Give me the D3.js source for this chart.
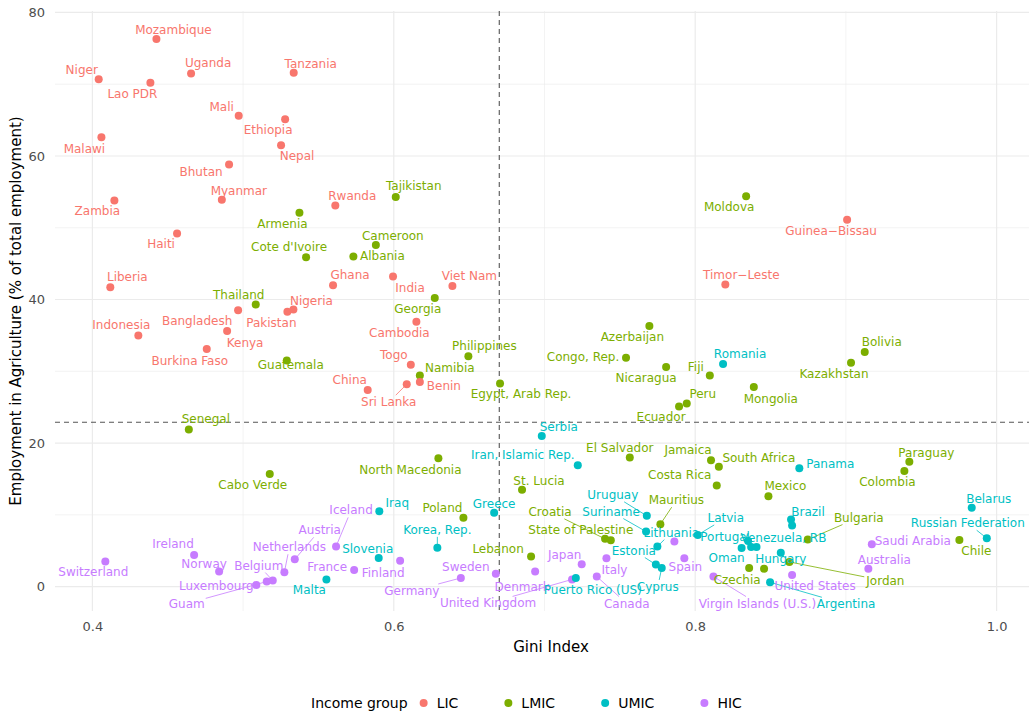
<!DOCTYPE html>
<html>
<head>
<meta charset="utf-8">
<script src="https://cdn.jsdelivr.net/npm/d3@7"></script>
<style>
body{margin:0;background:#fff;}
svg{display:block;font-family:"DejaVu Sans",sans-serif;}
</style>
</head>
<body>
<script>
var svg_width=1029;
var svg_height=715;

// data: Gini index (x) and agriculture employment share (y)
var lic_countries=["Mozambique","Niger","Lao PDR","Uganda","Tanzania","Mali","Ethiopia","Nepal","Malawi","Bhutan","Myanmar","Zambia","Rwanda","Haiti","Liberia","Ghana","India","Viet Nam","Indonesia","Bangladesh","Kenya","Pakistan","Nigeria","Burkina Faso","Cambodia","Togo","China","Sri Lanka","Benin","Timor-Leste","Guinea-Bissau"];
var lic_gini=[0.4425,0.4042,0.4385,0.4655,0.5336,0.4971,0.5279,0.5252,0.4060,0.4907,0.4859,0.4146,0.5612,0.4562,0.4119,0.5597,0.5995,0.6389,0.4305,0.4967,0.4894,0.5294,0.5334,0.4759,0.6150,0.6113,0.5827,0.6086,0.6173,0.8200,0.9008];
var lic_agri=[76.3,70.7,70.2,71.5,71.6,65.6,65.1,61.5,62.6,58.8,53.9,53.8,53.1,49.2,41.7,42.0,43.2,41.9,35.0,38.5,35.6,38.3,38.6,33.1,36.9,30.9,27.4,28.2,28.5,42.1,51.1];

var lmic_countries=["Tajikistan","Armenia","Cote d'Ivoire","Cameroon","Albania","Georgia","Thailand","Guatemala","Senegal","Philippines","Namibia","Egypt, Arab Rep.","Azerbaijan","Congo, Rep.","Nicaragua","Fiji","Moldova","Bolivia","Kazakhstan","Mongolia","Peru","Ecuador","El Salvador","Jamaica","South Africa","Costa Rica","Mexico","Paraguay","Colombia","North Macedonia","Cabo Verde","St. Lucia","Poland","Croatia","State of Palestine","Mauritius","Lebanon","Bulgaria","Czechia","","Jordan","Chile"];
var lmic_gini=[0.6013,0.5374,0.5418,0.5881,0.5732,0.6272,0.5084,0.5290,0.4640,0.6495,0.6173,0.6705,0.7696,0.7541,0.7807,0.8097,0.8338,0.9125,0.9034,0.8389,0.7944,0.7893,0.7566,0.8105,0.8157,0.8143,0.8486,0.9421,0.9388,0.6296,0.5177,0.6851,0.6462,0.7402,0.7440,0.7769,0.6911,0.8747,0.8358,0.8457,0.8625,0.9753];
var lmic_agri=[54.3,52.1,45.9,47.6,46.0,40.2,39.3,31.5,21.9,32.1,29.4,28.3,36.3,31.9,30.6,29.4,54.4,32.7,31.2,27.8,25.5,25.1,18.0,17.6,16.7,14.1,12.6,17.4,16.1,17.9,15.7,13.5,9.6,6.65,6.46,8.7,4.2,6.55,2.6,2.5,3.44,6.5];

var umic_countries=["Romania","Serbia","Iran, Islamic Rep.","Panama","Belarus","Russian Federation","Brazil","","Hungary","Argentina","Latvia","Oman","Portugal","","Venezuela, RB","Iraq","Greece","Korea, Rep.","Slovenia","Malta","Uruguay","Suriname","Lithuania","Estonia","Cyprus","Puerto Rico (US)"];
var umic_gini=[0.8185,0.6982,0.7221,0.8691,0.9835,0.9935,0.8636,0.8643,0.8568,0.8497,0.8017,0.8308,0.8351,0.8371,0.8407,0.5904,0.6666,0.6289,0.5900,0.5553,0.7679,0.7674,0.7749,0.7739,0.7778,0.7208];
var umic_agri=[31.0,21.0,16.9,16.5,11.0,6.74,9.34,8.5,4.7,0.6,7.2,5.37,6.35,5.5,5.5,10.5,10.3,5.4,4.0,1.0,9.86,7.67,5.58,3.07,2.6,1.2];

var hic_countries=["Switzerland","Ireland","Norway","Luxembourg","Guam","Belgium","Netherlands","Austria","Iceland","France","Finland","Germany","Sweden","Denmark","United Kingdom","Japan","Italy","Canada","Spain","","Virgin Islands (U.S.)","United States","Australia","Saudi Arabia"];
var hic_gini=[0.4086,0.4675,0.4841,0.5088,0.5157,0.5197,0.5274,0.5343,0.5617,0.5737,0.6042,0.6445,0.6677,0.6938,0.7183,0.7247,0.7411,0.7347,0.7928,0.7862,0.8121,0.8643,0.9149,0.9172];
var hic_agri=[3.5,4.4,2.1,0.24,0.7,0.84,2.0,3.8,5.6,2.3,3.6,1.2,1.8,2.1,1.0,3.1,3.95,1.4,3.95,6.3,1.4,1.6,2.5,5.9];

var groups=["LIC","LMIC","UMIC","HIC"];
var x_ticks=[0.4,0.6,0.8,1.0];
var x_minor=[0.5,0.7,0.9];
var y_ticks=[0,20,40,60,80];
var y_minor=[10,30,50,70];
var gini_line=0.67;
var agri_line=22.9;

// styling / layout
var colors=d3.scaleOrdinal().domain(groups).range(["#F8766D","#7CAE00","#00BFC4","#C77CFF"]);
var panel={left:55,right:1029,top:11,bottom:611};
var point_r=4;

// where each label sits relative to its point (px), like ggrepel output
var nudge={
 "Mozambique":[17,-9],"Niger":[-17,-9],"Lao PDR":[-18,11],"Uganda":[17,-10],"Tanzania":[17,-9],
 "Mali":[-17,-9],"Ethiopia":[-17,11],"Nepal":[16,11],"Malawi":[-17,12],"Bhutan":[-28,7],
 "Myanmar":[17,-9],"Zambia":[-17,11],"Rwanda":[17,-9],"Haiti":[-16,11],"Liberia":[17,-10],
 "Ghana":[17,-10],"India":[17,11],"Viet Nam":[17,-10],"Indonesia":[-17,-10],"Bangladesh":[-41,11],
 "Kenya":[18,12],"Pakistan":[-16,11],"Nigeria":[18,-9],"Burkina Faso":[-17,12],"Cambodia":[-17,11],
 "Togo":[-17,-10],"China":[-18,-10],"Sri Lanka":[-18,18],"Benin":[24,4],"Timor-Leste":[16,-9],
 "Guinea-Bissau":[-16,11],
 "Tajikistan":[18,-11],"Armenia":[-17,11],"Cote d'Ivoire":[-17,-10],"Cameroon":[17,-9],"Albania":[29,0],
 "Georgia":[-17,11],"Thailand":[-17,-10],"Guatemala":[4,4],"Senegal":[17,-10],"Philippines":[16,-10],
 "Namibia":[30,-8],"Egypt, Arab Rep.":[21,11],"Azerbaijan":[-17,11],"Congo, Rep.":[-43,-1],
 "Nicaragua":[-20,11],"Fiji":[-14,-9],"Moldova":[-17,11],"Bolivia":[17,-10],"Kazakhstan":[-17,11],
 "Mongolia":[17,12],"Peru":[16,-10],"Ecuador":[-18,11],"El Salvador":[-10,-9],"Jamaica":[-23,-10],
 "South Africa":[40,-9],"Costa Rica":[-37,-10],"Mexico":[17,-10],"Paraguay":[17,-9],"Colombia":[-17,11],
 "North Macedonia":[-28,12],"Cabo Verde":[-17,11],"St. Lucia":[17,-9],"Poland":[-21,-10],
 "Croatia":[-55,-27],"State of Palestine":[-30,-10],"Mauritius":[16,-24],"Lebanon":[-33,-7],
 "Bulgaria":[51,-22],"Czechia":[-12,12],"Jordan":[96,19],"Chile":[17,11],
 "Romania":[17,-10],"Serbia":[17,-9],"Iran, Islamic Rep.":[-55,-10],"Panama":[31,-4],"Belarus":[17,-9],
 "Russian Federation":[-19,-15],"Brazil":[17,-8],"Hungary":[0,6],"Argentina":[76,22],"Latvia":[28,-17],
 "Oman":[-15,10],"Portugal":[-23,-4],"Venezuela, RB":[27,-9],"Iraq":[18,-8],"Greece":[0,-9],
 "Korea, Rep.":[0,-18],"Slovenia":[-11,-9],"Malta":[-17,11],"Uruguay":[-34,-21],"Suriname":[-35,-20],
 "Lithuania":[14,-14],"Estonia":[-22,-14],"Cyprus":[-4,19],"Puerto Rico (US)":[17,12],
 "Switzerland":[-12,11],"Ireland":[-21,-11],"Norway":[-15,-8],"Luxembourg":[-40,1],"Guam":[-80,22],
 "Belgium":[-14,-15],"Netherlands":[5,-25],"Austria":[25,-29],"Iceland":[15,-36],"France":[-27,-3],
 "Finland":[-17,12],"Germany":[-49,13],"Sweden":[-30,-7],"Denmark":[-13,15],"United Kingdom":[-84,24],
 "Japan":[-17,-9],"Italy":[8,12],"Canada":[30,27],"Spain":[1,9],"Virgin Islands (U.S.)":[44,27],
 "United States":[23,11],"Australia":[16,-9],"Saudi Arabia":[41,-3]
};
var with_segment=["Sri Lanka","Croatia","Mauritius","Bulgaria","Jordan","Russian Federation","Argentina",
 "Latvia","Korea, Rep.","Uruguay","Suriname","Lithuania","Estonia","Cyprus","Guam","Belgium","Netherlands",
 "Austria","Iceland","Germany","United Kingdom","Canada","Virgin Islands (U.S.)"];

function build(group,names,xs,ys){
    return names.map(function (d,i) {
        return {name:d,gini:xs[i],agri:ys[i],group:group};
    });
}
// drawn HIC first so lower-income groups end up on top
var dataset=[].concat(
    build("HIC",hic_countries,hic_gini,hic_agri),
    build("UMIC",umic_countries,umic_gini,umic_agri),
    build("LMIC",lmic_countries,lmic_gini,lmic_agri),
    build("LIC",lic_countries,lic_gini,lic_agri));

var x=d3.scaleLinear()
    .domain([0.3752,1.0215])
    .range([panel.left,panel.right]);
var y=d3.scaleLinear()
    .domain([-3.4,80.2])
    .range([panel.bottom,panel.top]);

var svg=d3.select("body")
        .append("svg")
        .attr("width",svg_width)
        .attr("height",svg_height);

// grid
var grid=svg.append("g");
grid.selectAll("line.xminor").data(x_minor).enter().append("line")
    .attr("x1",function (d) { return x(d); }).attr("x2",function (d) { return x(d); })
    .attr("y1",panel.top).attr("y2",panel.bottom)
    .attr("stroke","#EBEBEB").attr("stroke-width",0.6);
grid.selectAll("line.yminor").data(y_minor).enter().append("line")
    .attr("y1",function (d) { return y(d); }).attr("y2",function (d) { return y(d); })
    .attr("x1",panel.left).attr("x2",panel.right)
    .attr("stroke","#EBEBEB").attr("stroke-width",0.6);
grid.selectAll("line.xmajor").data(x_ticks).enter().append("line")
    .attr("x1",function (d) { return x(d); }).attr("x2",function (d) { return x(d); })
    .attr("y1",panel.top).attr("y2",panel.bottom)
    .attr("stroke","#EBEBEB").attr("stroke-width",1.2);
grid.selectAll("line.ymajor").data(y_ticks).enter().append("line")
    .attr("y1",function (d) { return y(d); }).attr("y2",function (d) { return y(d); })
    .attr("x1",panel.left).attr("x2",panel.right)
    .attr("stroke","#EBEBEB").attr("stroke-width",1.2);

// reference lines
svg.append("line")
    .attr("x1",x(gini_line)).attr("x2",x(gini_line))
    .attr("y1",panel.top).attr("y2",panel.bottom)
    .attr("stroke","#555").attr("stroke-width",1.1)
    .attr("stroke-dasharray","5,4");
svg.append("line")
    .attr("x1",panel.left).attr("x2",panel.right)
    .attr("y1",y(agri_line)).attr("y2",y(agri_line))
    .attr("stroke","#555").attr("stroke-width",1.1)
    .attr("stroke-dasharray","5,4");

// points
svg.append("g").selectAll("circle")
    .data(dataset)
    .enter()
    .append("circle")
    .attr("cx",function (d) { return x(d.gini); })
    .attr("cy",function (d) { return y(d.agri); })
    .attr("r",point_r)
    .attr("fill",function (d) { return colors(d.group); });

// labels
var labelled=dataset.filter(function (d) { return d.name!=="" && nudge[d.name]; });
var seg_layer=svg.append("g");
var labels=svg.append("g").selectAll("text")
    .data(labelled)
    .enter()
    .append("text")
    .text(function (d) { return d.name.replace("-","\u2212"); })
    .attr("x",function (d) { return x(d.gini)+nudge[d.name][0]; })
    .attr("y",function (d) { return y(d.agri)+nudge[d.name][1]; })
    .attr("text-anchor","middle")
    .attr("dominant-baseline","central")
    .attr("font-size","12px")
    .attr("fill",function (d) { return colors(d.group); });

labels.each(function (d) {
    if (with_segment.indexOf(d.name)<0) return;
    var b=this.getBBox();
    var cx=b.x+b.width/2, cy=b.y+b.height/2;
    var px=x(d.gini), py=y(d.agri);
    var dx=px-cx, dy=py-cy;
    var tx=dx!==0 ? (b.width/2+1)/Math.abs(dx) : Infinity;
    var ty=dy!==0 ? (b.height/2)/Math.abs(dy) : Infinity;
    var t=Math.min(tx,ty,1);
    var len=Math.sqrt(dx*dx+dy*dy);
    var e=(len-2)/len;
    seg_layer.append("line")
        .attr("x1",cx+dx*t).attr("y1",cy+dy*t)
        .attr("x2",cx+dx*e).attr("y2",cy+dy*e)
        .attr("stroke",colors(d.group))
        .attr("stroke-width",0.8);
});

// axes
var xAxis=d3.axisBottom(x)
    .tickValues(x_ticks)
    .tickSize(0)
    .tickPadding(11)
    .tickFormat(d3.format(".1f"));
svg.append("g")
    .attr("transform","translate(0,"+panel.bottom+")")
    .call(xAxis)
    .call(function (g) { g.select(".domain").remove(); })
    .selectAll("text")
    .attr("font-family","DejaVu Sans")
    .attr("font-size","13px")
    .attr("fill","#4D4D4D");

var yAxis=d3.axisLeft(y)
    .tickValues(y_ticks)
    .tickSize(0)
    .tickPadding(10);
svg.append("g")
    .attr("transform","translate("+panel.left+",0)")
    .call(yAxis)
    .call(function (g) { g.select(".domain").remove(); })
    .selectAll("text")
    .attr("font-family","DejaVu Sans")
    .attr("font-size","13px")
    .attr("fill","#4D4D4D");

svg.append("text")
    .text("Gini Index")
    .attr("x",551)
    .attr("y",647)
    .attr("text-anchor","middle")
    .attr("dominant-baseline","central")
    .attr("font-size","15px")
    .attr("fill","#000");

svg.append("text")
    .text("Employment in Agriculture (% of total employment)")
    .attr("transform","translate(16,"+((panel.top+panel.bottom)/2)+") rotate(-90)")
    .attr("text-anchor","middle")
    .attr("dominant-baseline","central")
    .attr("font-size","15px")
    .attr("fill","#000");

// legend
var legend=svg.append("g");
var legend_y=703;
var title=legend.append("text")
    .text("Income group")
    .attr("x",0).attr("y",legend_y)
    .attr("dominant-baseline","central")
    .attr("font-size","14px")
    .attr("fill","#000");
var cursor=title.node().getComputedTextLength()+16;
groups.forEach(function (gname) {
    legend.append("circle")
        .attr("cx",cursor).attr("cy",legend_y)
        .attr("r",point_r)
        .attr("fill",colors(gname));
    var t=legend.append("text")
        .text(gname)
        .attr("x",cursor+13).attr("y",legend_y)
        .attr("dominant-baseline","central")
        .attr("font-size","14px")
        .attr("fill","#000");
    cursor=cursor+13+t.node().getComputedTextLength()+50;
});
legend.attr("transform","translate(311,0)");
</script>
</body>
</html>
